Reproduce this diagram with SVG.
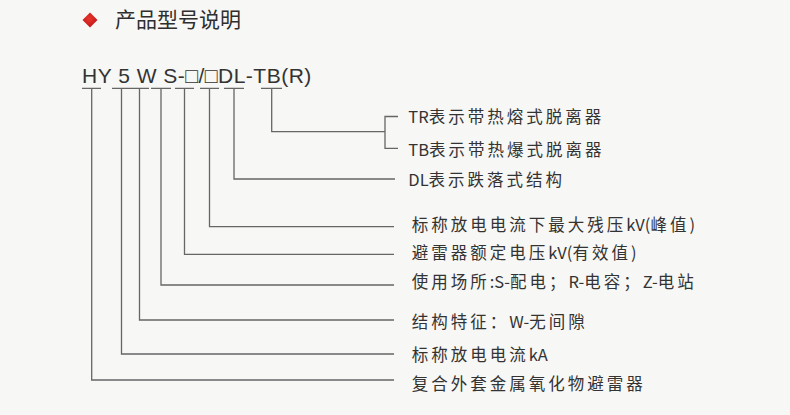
<svg xmlns="http://www.w3.org/2000/svg" width="790" height="415" viewBox="0 0 790 415">
<style>
.bg{fill:#f7f7f5}
.ttl{font-family:"Noto Sans CJK SC","Liberation Sans",sans-serif;font-size:21px;fill:#2e2e2e}
.code{font-family:"Liberation Sans",Arial,sans-serif;font-size:21px;fill:#333;letter-spacing:0.5px}
.lbl{font-family:"Noto Sans CJK SC","Liberation Sans",sans-serif;font-size:16.5px;fill:#333;letter-spacing:3px}
.l{letter-spacing:0}
.ln{fill:none;stroke:#666;stroke-width:1.3}
</style>
<defs>
<radialGradient id="rg" cx="0.45" cy="0.4" r="0.6">
<stop offset="0" stop-color="#e8362a"/>
<stop offset="1" stop-color="#c0161a"/>
</radialGradient>
</defs>
<rect class="bg" x="0" y="0" width="790" height="415"/>
<g id="title">
<polygon points="90,12.5 97.5,20 90,27.5 82.5,20" fill="url(#rg)"/>
<text class="ttl" x="115" y="26.5">产品型号说明</text>
</g>
<g id="model-code">
<text class="code" x="82" y="83.3">HY 5 W S-□/□DL-TB(R)</text>
</g>
<g id="connectors">
<path class="ln" d="M82,88.3H101 M112,88.3H131 M130,88.3H149 M151,88.3H171 M175,88.3H194 M200,88.3H219 M224,88.3H244 M261,88.3H282"/>
<path class="ln" d="M91.7,88.3V380H394"/>
<path class="ln" d="M121.5,88.3V354H394"/>
<path class="ln" d="M139.5,88.3V320H394"/>
<path class="ln" d="M161,88.3V285H394"/>
<path class="ln" d="M184.5,88.3V254.3H394"/>
<path class="ln" d="M209.5,88.3V226.7H394"/>
<path class="ln" d="M234,88.3V179H395"/>
<path class="ln" d="M271.7,88.3V131.7H385"/>
<path class="ln" d="M398,116.5H385V148.3H398"/>
</g>
<g id="label-tr"><text class="lbl" x="408.3" y="123"><tspan class="l">TR</tspan>表示带热熔式脱离器</text></g>
<g id="label-tb"><text class="lbl" x="408.3" y="156"><tspan class="l">TB</tspan>表示带热爆式脱离器</text></g>
<g id="label-dl"><text class="lbl" x="408.3" y="186.3"><tspan class="l">DL</tspan>表示跌落式结构</text></g>
<g id="label-residual"><text class="lbl" x="411.7" y="231.3">标称放电电流下最大残压<tspan class="l">kV(</tspan>峰值<tspan class="l">)</tspan></text></g>
<g id="label-rated"><text class="lbl" x="411.7" y="259.3">避雷器额定电压<tspan class="l">kV(</tspan>有效值<tspan class="l">)</tspan></text></g>
<g id="label-usage"><text class="lbl" x="411.7" y="288.3">使用场所<tspan class="l">:S-</tspan>配电；<tspan class="l">R-</tspan>电容；<tspan class="l">Z-</tspan>电站</text></g>
<g id="label-structure"><text class="lbl" x="411.7" y="328">结构特征：<tspan class="l">W-</tspan>无间隙</text></g>
<g id="label-current"><text class="lbl" x="411.7" y="361.3">标称放电电流<tspan class="l">kA</tspan></text></g>
<g id="label-type"><text class="lbl" x="411.7" y="389.6">复合外套金属氧化物避雷器</text></g>
</svg>
